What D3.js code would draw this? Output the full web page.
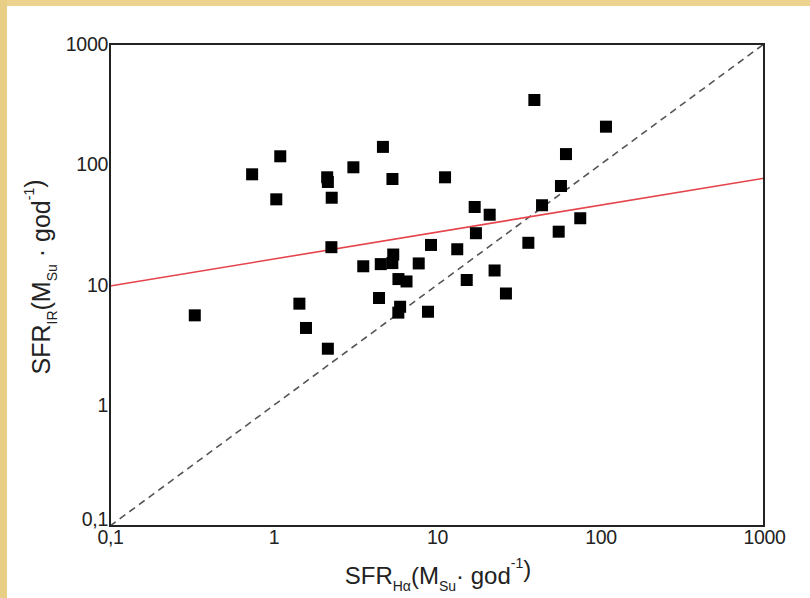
<!DOCTYPE html>
<html>
<head>
<meta charset="utf-8">
<script src="https://cdnjs.cloudflare.com/ajax/libs/d3/7.8.5/d3.min.js"></script>
<style>
  html, body { margin: 0; padding: 0; background: #fff; }
  svg { display: block; font-family: "Liberation Sans", Arial, sans-serif; }
</style>
</head>
<body>
<div id="chart"></div>
<script>
// SFR(H-alpha) vs SFR(IR)
const sfrHa = [0.33, 0.74, 1.10, 1.04, 2.13, 2.15, 2.27, 3.08, 4.67, 5.34, 11.2, 2.26,
  1.44, 1.58, 2.15, 3.54, 4.53, 5.40, 5.33, 7.73, 9.19, 5.81, 6.51, 4.42, 5.95, 5.80, 8.81,
  39.4, 108, 61.5, 57.3, 43.9, 17.0, 21.0, 75.2, 17.3, 55.5, 36.2, 13.3, 22.5, 15.2, 26.4];
const sfrIr = [5.6, 82.9, 117, 51.4, 78.3, 71.6, 53.0, 94.8, 140, 75.8, 78.3, 20.6,
  7.0, 4.4, 2.96, 14.3, 14.9, 17.9, 15.2, 15.1, 21.5, 11.2, 10.7, 7.8, 6.6, 5.9, 6.0,
  343, 206, 122, 66.3, 45.9, 44.4, 38.3, 35.8, 26.9, 27.7, 22.4, 19.8, 13.2, 11.0, 8.5];

const tickValues = [0.1, 1, 10, 100, 1000];
const tickLabels = ["0,1", "1", "10", "100", "1000"];

// fitted relation (red) and the one-to-one line (dashed)
const fitX = [0.1, 1000];
const fitY = [9.8, 77];
const equalX = [0.1, 1000];

const width = 810, height = 598;
const margin = { left: 110, right: 46, top: 44, bottom: 72 };

const svg = d3.select("#chart").append("svg")
    .attr("width", width)
    .attr("height", height);

// slide background: white with a beige edge on top and left
svg.append("rect").attr("width", width).attr("height", height).attr("fill", "#fff");
svg.append("rect").attr("width", width).attr("height", 6).attr("fill", "#ecd38f");
svg.append("rect").attr("width", 7).attr("height", height).attr("fill", "#e9cf86");

const x = d3.scaleLog().domain([0.1, 1000]).range([margin.left, width - margin.right]);
const y = d3.scaleLog().domain([0.1, 1000]).range([height - margin.bottom, margin.top]);

const fmt = d => tickLabels[tickValues.indexOf(d)];

// axes (labels only, no tick marks)
const gx = svg.append("g")
    .attr("transform", `translate(0,${height - margin.bottom})`)
    .call(d3.axisBottom(x).tickValues(tickValues).tickFormat(fmt).tickSize(0).tickPadding(4));
const gy = svg.append("g")
    .attr("transform", `translate(${margin.left},0)`)
    .call(d3.axisLeft(y).tickValues(tickValues).tickFormat(fmt).tickSize(0).tickPadding(2));
[gx, gy].forEach(g => {
    g.select(".domain").remove();
    g.selectAll("text")
        .attr("font-family", "'Liberation Sans', Arial, sans-serif")
        .attr("font-size", 19.5)
        .attr("letter-spacing", -0.3)
        .attr("fill", "#222");
});
// the lowest y label sits a little above the corner in the original
gy.selectAll(".tick").filter(d => d === 0.1).select("text").attr("dy", "-0.05em");

// one-to-one dashed line
svg.append("line")
    .attr("x1", x(equalX[0])).attr("y1", y(equalX[0]))
    .attr("x2", x(equalX[1])).attr("y2", y(equalX[1]))
    .attr("stroke", "#555")
    .attr("stroke-width", 1.6)
    .attr("stroke-dasharray", "7,5");

// fit line
svg.append("line")
    .attr("x1", x(fitX[0])).attr("y1", y(fitY[0]))
    .attr("x2", x(fitX[1])).attr("y2", y(fitY[1]))
    .attr("stroke", "#e6444c")
    .attr("stroke-width", 1.6);

// square markers
const sq = 12;
svg.append("g")
    .selectAll("rect")
    .data(sfrHa.map((d, i) => [d, sfrIr[i]]))
    .join("rect")
    .attr("x", d => x(d[0]) - sq / 2)
    .attr("y", d => y(d[1]) - sq / 2)
    .attr("width", sq)
    .attr("height", sq)
    .attr("fill", "#000");

// frame
svg.append("rect")
    .attr("x", margin.left).attr("y", margin.top)
    .attr("width", width - margin.left - margin.right)
    .attr("height", height - margin.top - margin.bottom)
    .attr("fill", "none")
    .attr("stroke", "#222")
    .attr("stroke-width", 2);

// axis titles
function title(g, parts) {
    const t = g.append("text").attr("fill", "#222");
    parts.forEach(p => {
        const s = t.append("tspan").text(p[0]);
        if (p[1] === "sub") s.attr("font-size", 14).attr("dy", 7);
        else if (p[1] === "sup") s.attr("font-size", 14).attr("dy", -16);
        else if (p[1] === "back") s.attr("dy", -7);
        else if (p[1] === "down") s.attr("dy", 9);
    });
    return t;
}

const xt = title(svg.append("g"), [["SFR"], ["Hα", "sub"], ["(M", "back"], ["Su", "sub"],
    ["· god", "back"], ["-1", "sup"], [")", "down"]]);
xt.attr("x", 438)
    .attr("y", 584)
    .attr("text-anchor", "middle")
    .attr("font-size", 24);

const yt = title(svg.append("g").attr("transform", "translate(50,277) rotate(-90)"),
    [["SFR"], ["IR", "sub"], ["(M", "back"], ["Su", "sub"],
    [" · god", "back"], ["-1", "sup"], [")", "down"]]);
yt.attr("x", 0).attr("y", 0)
    .attr("text-anchor", "middle")
    .attr("font-size", 25);
</script>
</body>
</html>
